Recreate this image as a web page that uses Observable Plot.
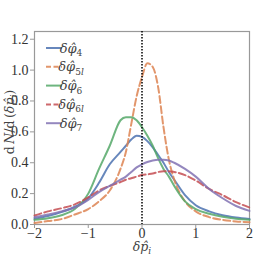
<!DOCTYPE html>
<html><head><meta charset="utf-8">
<script src="https://cdn.jsdelivr.net/npm/d3@7"></script>
<script src="https://cdn.jsdelivr.net/npm/@observablehq/plot@0.6"></script>
<style>body{margin:0;background:#fff}</style>
</head><body><div id="chart"></div>
<script>
const xs    = [-2,-1.75,-1.5,-1.25,-1,-0.8,-0.6,-0.4,-0.3,-0.2,-0.1,0,0.1,0.2,0.3,0.4,0.5,0.6,0.8,1,1.25,1.5,1.75,2];
const phi4  = [0.037,0.055,0.08,0.115,0.17,0.27,0.39,0.47,0.51,0.55,0.575,0.567,0.54,0.50,0.45,0.40,0.34,0.29,0.19,0.125,0.085,0.06,0.045,0.035];
const phi5l = [0.01,0.022,0.035,0.065,0.10,0.15,0.22,0.36,0.47,0.65,0.83,0.955,1.045,1.02,0.89,0.63,0.42,0.29,0.15,0.085,0.048,0.03,0.02,0.015];
const phi6  = [0.03,0.04,0.06,0.10,0.20,0.36,0.51,0.675,0.695,0.695,0.675,0.63,0.575,0.51,0.43,0.36,0.31,0.25,0.15,0.10,0.07,0.05,0.037,0.03];
const phi6l = [0.058,0.085,0.105,0.13,0.175,0.22,0.25,0.275,0.29,0.30,0.31,0.32,0.325,0.33,0.34,0.345,0.345,0.34,0.32,0.285,0.23,0.19,0.145,0.11];
const phi7  = [0.047,0.065,0.085,0.11,0.16,0.21,0.25,0.29,0.31,0.34,0.37,0.39,0.405,0.415,0.42,0.42,0.415,0.40,0.36,0.31,0.23,0.17,0.12,0.088];
const xTicks = [-2,-1,0,1,2];
const yTicks = [0,0.2,0.4,0.6,0.8,1.0,1.2];
const names = [["4",""],["5","l"],["6",""],["6","l"],["7",""]];

const seriesVals = [phi4, phi5l, phi6, phi6l, phi7];
const colors = ["#4C72B0","#DD8452","#55A868","#C44E52","#8172B3"];
const dashed = [false,true,false,true,false];

const font = "'Liberation Serif', 'DejaVu Serif', serif";
const mathFont = "'DejaVu Serif', serif";

const lineMarks = seriesVals.map((vals, k) =>
  Plot.line(xs.map((x, i) => ({x, y: vals[i]})), {
    x: "x", y: "y", curve: "monotone-x",
    stroke: colors[k], strokeOpacity: 0.85, strokeWidth: 2,
    strokeDasharray: dashed[k] ? "7,3.2" : null
  })
);

const chart = Plot.plot({
  width: 277, height: 256,
  marginLeft: 34, marginRight: 28, marginTop: 31, marginBottom: 32,
  style: {fontFamily: font, fontSize: "14px", background: "#fff", color: "#333"},
  x: {domain: [-2, 2], label: null},
  y: {domain: [0, 1.25], label: null},
  marks: [
    Plot.frame({stroke: "#999", strokeWidth: 1.2}),
    Plot.axisX({ticks: xTicks, tickSize: 4, tickPadding: 0, stroke: "#999", fill: "#333", label: null,
      tickFormat: d => d < 0 ? "\u2212" + Math.abs(d) : String(d)}),
    Plot.axisY({ticks: yTicks, tickSize: 4, tickPadding: 2, stroke: "#999", fill: "#333", label: null,
      tickFormat: d => d.toFixed(1)}),
    ...lineMarks,
    Plot.ruleX([0], {stroke: "#000", strokeWidth: 1.5, strokeDasharray: "1.5,1.5"})
  ]
});
document.getElementById("chart").appendChild(chart);

const svg = d3.select(chart);
// legend
const lg = svg.append("g").attr("font-family", mathFont).attr("font-size", 13).attr("fill", "#444");
names.forEach((nm, k) => {
  const y = 48 + k * 18.8;
  lg.append("line").attr("x1", 46).attr("x2", 62).attr("y1", y).attr("y2", y)
    .attr("stroke", colors[k]).attr("stroke-opacity", 0.85).attr("stroke-width", 2)
    .attr("stroke-dasharray", dashed[k] ? "5,2.5" : null);
  const t = lg.append("text").attr("x", 71).attr("y", y + 4.5);
  t.append("tspan").attr("font-style", "italic").text("\u03B4\u03C6\u0302");
  t.append("tspan").attr("dy", 3.5).attr("font-size", 9).text(nm[0]);
  if (nm[1]) t.append("tspan").attr("font-size", 9).attr("font-style", "italic").text(nm[1]);
});
// x label
const xl = svg.append("text").attr("x", 142).attr("y", 251).attr("text-anchor", "middle")
  .attr("font-family", mathFont).attr("font-size", 12.5).attr("fill", "#444");
xl.append("tspan").attr("font-style", "italic").text("\u03B4p\u0302");
xl.append("tspan").attr("font-style", "italic").attr("font-size", 9).attr("dy", 2.5).text("i");
// y label
const yl = svg.append("text").attr("transform", "translate(14,122) rotate(-90)").attr("text-anchor", "middle")
  .attr("font-family", mathFont).attr("font-size", 12.5).attr("fill", "#444");
yl.append("tspan").text("d\u2009");
yl.append("tspan").attr("font-style", "italic").text("N");
yl.append("tspan").text("/d\u2009(");
yl.append("tspan").attr("font-style", "italic").text("\u03B4p\u0302");
yl.append("tspan").attr("font-style", "italic").attr("font-size", 9).attr("dy", 3).text("i");
yl.append("tspan").attr("dy", -3).text(")");
</script></body></html>
